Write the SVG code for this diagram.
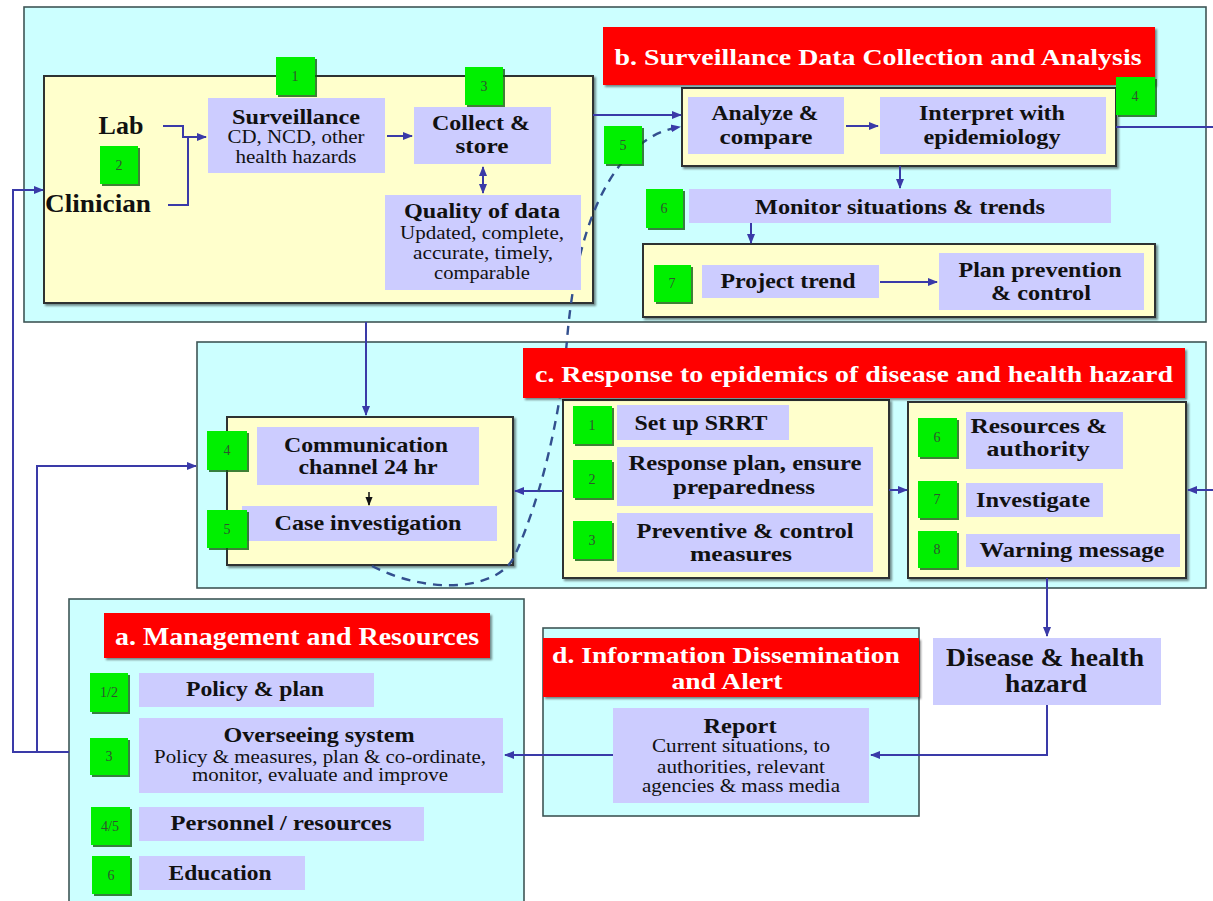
<svg xmlns="http://www.w3.org/2000/svg" width="1213" height="901" viewBox="0 0 1213 901">
  <style>
    .panel { fill: #CCFFFF; stroke: #3f5656; stroke-width: 1.6; }
    .inner { fill: #FFFFCC; stroke: #2e3333; stroke-width: 2; }
    .item { fill: #CCCCFF; }
    .badge { fill: #00F000; }
    .title { fill: #FF0000; }
    text { font-family: "Liberation Serif", Tinos, "Times New Roman", Times, "Nimbus Roman", serif; }
    .num { font-size: 14px; fill: #2f552f; text-anchor: middle; }
    .t { font-weight: bold; fill: #111; text-anchor: middle; }
    .d { fill: #111; text-anchor: middle; }
    .w { font-weight: bold; fill: #FFFFFF; text-anchor: middle; }
    .link { fill: none; stroke: #3a3aa8; stroke-width: 2; }
    .dash { fill: none; stroke: #33508f; stroke-width: 2.4; stroke-dasharray: 9 7; }
  </style>
  <defs>
    <marker id="ah" viewBox="0 0 10 10" refX="9" refY="5" markerWidth="10" markerHeight="10" markerUnits="userSpaceOnUse" orient="auto-start-reverse">
      <path d="M0,1 L10,5 L0,9 z" fill="#3a3aa8"/>
    </marker>
    <marker id="ahk" viewBox="0 0 10 10" refX="9" refY="5" markerWidth="9" markerHeight="9" markerUnits="userSpaceOnUse" orient="auto">
      <path d="M0,1 L10,5 L0,9 z" fill="#111"/>
    </marker>
    <filter id="sh" x="-10%" y="-10%" width="130%" height="140%">
      <feDropShadow dx="2" dy="2" stdDeviation="0.8" flood-color="#000" flood-opacity="0.45"/>
    </filter>
    <filter id="shg" x="-10%" y="-10%" width="130%" height="130%">
      <feDropShadow dx="2" dy="2" stdDeviation="0.6" flood-color="#106010" flood-opacity="0.8"/>
    </filter>
  </defs>

  <!-- section panels -->
  <g id="panel-b"><rect class="panel" x="24" y="7" width="1182" height="315"/></g>
  <g id="panel-c"><rect class="panel" x="197" y="342" width="1009" height="246"/></g>
  <g id="panel-a"><rect class="panel" x="69" y="599" width="455" height="310"/></g>
  <g id="panel-d"><rect class="panel" x="543" y="628" width="376" height="188"/></g>

  <!-- grouping boxes -->
  <g id="group-sources"><rect class="inner" x="44" y="76" width="549" height="227" filter="url(#sh)"/></g>
  <g id="group-analysis"><rect class="inner" x="682" y="88" width="434" height="78" filter="url(#sh)"/></g>
  <g id="group-projection"><rect class="inner" x="643" y="244" width="512" height="73" filter="url(#sh)"/></g>
  <g id="group-field"><rect class="inner" x="227" y="417" width="286" height="148" filter="url(#sh)"/></g>
  <g id="group-setup"><rect class="inner" x="563" y="400" width="326" height="178" filter="url(#sh)"/></g>
  <g id="group-action"><rect class="inner" x="908" y="402" width="278" height="176" filter="url(#sh)"/></g>

  <!-- connectors -->
  <g id="connectors">
    <path class="link" d="M163,126 H183 V137 H206" marker-end="url(#ah)"/>
    <path class="link" d="M168,205 H188 V137"/>
    <path class="link" d="M387,136 H412" marker-end="url(#ah)"/>
    <path class="link" d="M483,167 V193" marker-start="url(#ah)" marker-end="url(#ah)"/>
    <path class="link" d="M593,115 H681" marker-end="url(#ah)"/>
    <path class="link" d="M846,126 H878" marker-end="url(#ah)"/>
    <path class="link" d="M900,166 V188" marker-end="url(#ah)"/>
    <path class="link" d="M751,223 V243" marker-end="url(#ah)"/>
    <path class="link" d="M880,282 H937" marker-end="url(#ah)"/>
    <path class="link" d="M1116,127 H1213"/>
    <path class="link" d="M366,322 V415" marker-end="url(#ah)"/>
    <path class="link" d="M563,491 H515" marker-end="url(#ah)"/>
    <path class="link" d="M889,490 H907" marker-end="url(#ah)"/>
    <path class="link" d="M1213,490 H1188" marker-end="url(#ah)"/>
    <path class="link" d="M1047,578 V636" marker-end="url(#ah)"/>
    <path class="link" d="M1047,705 V755 H871" marker-end="url(#ah)"/>
    <path class="link" d="M613,755 H505" marker-end="url(#ah)"/>
    <path class="link" d="M69,752 H13 V190 H43" marker-end="url(#ah)"/>
    <path class="link" d="M37,752 V466 H196" marker-end="url(#ah)"/>
    <path fill="none" stroke="#111" stroke-width="1.5" d="M369,492 V505" marker-end="url(#ahk)"/>
    <path class="dash" d="M372,566 C430,596 500,590 515,555 C540,500 560,420 567,340 C572,280 585,210 620,165 C640,140 660,130 680,127" marker-end="url(#ah)"/>
  </g>

  <!-- b. surveillance data collection and analysis -->
  <g id="title-b">
    <rect class="title" x="603" y="27" width="552" height="58" filter="url(#sh)"/>
    <text class="w" x="878" y="65" font-size="24" textLength="527" lengthAdjust="spacingAndGlyphs">b. Surveillance Data Collection and Analysis</text>
  </g>
  <g id="lab"><text class="t" x="121" y="134" font-size="26">Lab</text></g>
  <g id="clinician"><text class="t" x="98" y="212" font-size="26" textLength="106" lengthAdjust="spacingAndGlyphs">Clinician</text></g>
  <g id="surveillance">
    <rect class="item" x="208" y="98" width="177" height="75"/>
    <text class="t" x="296" y="124" font-size="20" textLength="128" lengthAdjust="spacingAndGlyphs">Surveillance</text>
    <text class="d" x="296" y="143" font-size="19" textLength="137" lengthAdjust="spacingAndGlyphs">CD, NCD, other</text>
    <text class="d" x="296" y="163" font-size="19" textLength="121" lengthAdjust="spacingAndGlyphs">health hazards</text>
  </g>
  <g id="collect">
    <rect class="item" x="414" y="107" width="137" height="57"/>
    <text class="t" x="481" y="130" font-size="21" textLength="98" lengthAdjust="spacingAndGlyphs">Collect &amp;</text>
    <text class="t" x="482" y="153" font-size="21" textLength="53" lengthAdjust="spacingAndGlyphs">store</text>
  </g>
  <g id="quality">
    <rect class="item" x="385" y="195" width="196" height="95"/>
    <text class="t" x="482" y="218" font-size="20" textLength="156" lengthAdjust="spacingAndGlyphs">Quality of data</text>
    <text class="d" x="482" y="239" font-size="18" textLength="164" lengthAdjust="spacingAndGlyphs">Updated, complete,</text>
    <text class="d" x="483" y="259" font-size="18" textLength="140" lengthAdjust="spacingAndGlyphs">accurate, timely,</text>
    <text class="d" x="482" y="279" font-size="18" textLength="96" lengthAdjust="spacingAndGlyphs">comparable</text>
  </g>
  <g id="analyze">
    <rect class="item" x="688" y="97" width="156" height="57"/>
    <text class="t" x="765" y="120" font-size="21" textLength="107" lengthAdjust="spacingAndGlyphs">Analyze &amp;</text>
    <text class="t" x="766" y="144" font-size="21" textLength="93" lengthAdjust="spacingAndGlyphs">compare</text>
  </g>
  <g id="interpret">
    <rect class="item" x="880" y="97" width="226" height="57"/>
    <text class="t" x="992" y="120" font-size="21" textLength="146" lengthAdjust="spacingAndGlyphs">Interpret with</text>
    <text class="t" x="992" y="144" font-size="21" textLength="137" lengthAdjust="spacingAndGlyphs">epidemiology</text>
  </g>
  <g id="monitor">
    <rect class="item" x="689" y="189" width="422" height="34"/>
    <text class="t" x="900" y="214" font-size="22" textLength="290" lengthAdjust="spacingAndGlyphs">Monitor situations &amp; trends</text>
  </g>
  <g id="project">
    <rect class="item" x="702" y="265" width="177" height="33"/>
    <text class="t" x="788" y="288" font-size="21" textLength="135" lengthAdjust="spacingAndGlyphs">Project trend</text>
  </g>
  <g id="plan">
    <rect class="item" x="939" y="253" width="205" height="57"/>
    <text class="t" x="1040" y="277" font-size="21" textLength="163" lengthAdjust="spacingAndGlyphs">Plan prevention</text>
    <text class="t" x="1041" y="300" font-size="21" textLength="100" lengthAdjust="spacingAndGlyphs">&amp; control</text>
  </g>

  <!-- c. response to epidemics -->
  <g id="title-c">
    <rect class="title" x="523" y="348" width="662" height="50" filter="url(#sh)"/>
    <text class="w" x="854" y="382" font-size="24" textLength="638" lengthAdjust="spacingAndGlyphs">c. Response to epidemics of disease and health hazard</text>
  </g>
  <g id="communication">
    <rect class="item" x="257" y="427" width="222" height="58"/>
    <text class="t" x="366" y="452" font-size="21" textLength="164" lengthAdjust="spacingAndGlyphs">Communication</text>
    <text class="t" x="368" y="474" font-size="21" textLength="139" lengthAdjust="spacingAndGlyphs">channel 24 hr</text>
  </g>
  <g id="case">
    <rect class="item" x="242" y="506" width="255" height="35"/>
    <text class="t" x="368" y="530" font-size="21" textLength="187" lengthAdjust="spacingAndGlyphs">Case investigation</text>
  </g>
  <g id="srrt">
    <rect class="item" x="617" y="405" width="172" height="35"/>
    <text class="t" x="701" y="430" font-size="21" textLength="133" lengthAdjust="spacingAndGlyphs">Set up SRRT</text>
  </g>
  <g id="response-plan">
    <rect class="item" x="617" y="447" width="256" height="59"/>
    <text class="t" x="745" y="470" font-size="21" textLength="233" lengthAdjust="spacingAndGlyphs">Response plan, ensure</text>
    <text class="t" x="744" y="494" font-size="21" textLength="142" lengthAdjust="spacingAndGlyphs">preparedness</text>
  </g>
  <g id="preventive">
    <rect class="item" x="617" y="513" width="256" height="59"/>
    <text class="t" x="745" y="538" font-size="20" textLength="217" lengthAdjust="spacingAndGlyphs">Preventive &amp; control</text>
    <text class="t" x="741" y="561" font-size="20" textLength="102" lengthAdjust="spacingAndGlyphs">measures</text>
  </g>
  <g id="resources">
    <rect class="item" x="966" y="412" width="157" height="57"/>
    <text class="t" x="1039" y="433" font-size="20" textLength="137" lengthAdjust="spacingAndGlyphs">Resources &amp;</text>
    <text class="t" x="1038" y="456" font-size="20" textLength="103" lengthAdjust="spacingAndGlyphs">authority</text>
  </g>
  <g id="investigate">
    <rect class="item" x="966" y="483" width="137" height="34"/>
    <text class="t" x="1033" y="507" font-size="21" textLength="114" lengthAdjust="spacingAndGlyphs">Investigate</text>
  </g>
  <g id="warning">
    <rect class="item" x="966" y="534" width="214" height="33"/>
    <text class="t" x="1072" y="557" font-size="21" textLength="185" lengthAdjust="spacingAndGlyphs">Warning message</text>
  </g>

  <!-- hazard source -->
  <g id="hazard">
    <rect class="item" x="933" y="638" width="228" height="67"/>
    <text class="t" x="1045" y="666" font-size="25" textLength="198" lengthAdjust="spacingAndGlyphs">Disease &amp; health</text>
    <text class="t" x="1046" y="692" font-size="25" textLength="82" lengthAdjust="spacingAndGlyphs">hazard</text>
  </g>

  <!-- d. information dissemination -->
  <g id="title-d">
    <rect class="title" x="543" y="638" width="376" height="59" filter="url(#sh)"/>
    <text class="w" x="726" y="663" font-size="24" textLength="348" lengthAdjust="spacingAndGlyphs">d. Information Dissemination</text>
    <text class="w" x="727" y="689" font-size="24" textLength="111" lengthAdjust="spacingAndGlyphs">and Alert</text>
  </g>
  <g id="report">
    <rect class="item" x="613" y="708" width="256" height="95"/>
    <text class="t" x="740" y="733" font-size="20" textLength="73" lengthAdjust="spacingAndGlyphs">Report</text>
    <text class="d" x="741" y="752" font-size="18" textLength="178" lengthAdjust="spacingAndGlyphs">Current situations, to</text>
    <text class="d" x="741" y="773" font-size="18" textLength="168" lengthAdjust="spacingAndGlyphs">authorities, relevant</text>
    <text class="d" x="741" y="792" font-size="18" textLength="198" lengthAdjust="spacingAndGlyphs">agencies &amp; mass media</text>
  </g>

  <!-- a. management and resources -->
  <g id="title-a">
    <rect class="title" x="104" y="613" width="386" height="45" filter="url(#sh)"/>
    <text class="w" x="297" y="645" font-size="25" textLength="364" lengthAdjust="spacingAndGlyphs">a. Management and Resources</text>
  </g>
  <g id="policy">
    <rect class="item" x="139" y="673" width="235" height="34"/>
    <text class="t" x="255" y="696" font-size="21" textLength="138" lengthAdjust="spacingAndGlyphs">Policy &amp; plan</text>
  </g>
  <g id="overseeing">
    <rect class="item" x="139" y="718" width="364" height="75"/>
    <text class="t" x="319" y="742" font-size="21" textLength="191" lengthAdjust="spacingAndGlyphs">Overseeing system</text>
    <text class="d" x="320" y="763" font-size="18" textLength="332" lengthAdjust="spacingAndGlyphs">Policy &amp; measures, plan &amp; co-ordinate,</text>
    <text class="d" x="320" y="781" font-size="18" textLength="256" lengthAdjust="spacingAndGlyphs">monitor, evaluate and improve</text>
  </g>
  <g id="personnel">
    <rect class="item" x="139" y="807" width="285" height="34"/>
    <text class="t" x="281" y="830" font-size="21" textLength="221" lengthAdjust="spacingAndGlyphs">Personnel / resources</text>
  </g>
  <g id="education">
    <rect class="item" x="139" y="856" width="166" height="34"/>
    <text class="t" x="220" y="880" font-size="21" textLength="103" lengthAdjust="spacingAndGlyphs">Education</text>
  </g>

  <!-- step badges -->
  <g id="badge-b1"><rect class="badge" x="276" y="57" width="39" height="38" filter="url(#shg)"/><text class="num" x="295" y="81">1</text></g>
  <g id="badge-b2"><rect class="badge" x="100" y="146" width="38" height="38" filter="url(#shg)"/><text class="num" x="119" y="170">2</text></g>
  <g id="badge-b3"><rect class="badge" x="465" y="67" width="38" height="38" filter="url(#shg)"/><text class="num" x="484" y="91">3</text></g>
  <g id="badge-b4"><rect class="badge" x="1116" y="77" width="39" height="38" filter="url(#shg)"/><text class="num" x="1135" y="101">4</text></g>
  <g id="badge-b5"><rect class="badge" x="604" y="126" width="38" height="38" filter="url(#shg)"/><text class="num" x="623" y="150">5</text></g>
  <g id="badge-b6"><rect class="badge" x="646" y="189" width="37" height="39" filter="url(#shg)"/><text class="num" x="664" y="213">6</text></g>
  <g id="badge-b7"><rect class="badge" x="654" y="265" width="37" height="37" filter="url(#shg)"/><text class="num" x="672" y="288">7</text></g>
  <g id="badge-c4"><rect class="badge" x="207" y="431" width="40" height="39" filter="url(#shg)"/><text class="num" x="227" y="455">4</text></g>
  <g id="badge-c5"><rect class="badge" x="207" y="510" width="40" height="38" filter="url(#shg)"/><text class="num" x="227" y="534">5</text></g>
  <g id="badge-c1"><rect class="badge" x="573" y="406" width="39" height="38" filter="url(#shg)"/><text class="num" x="592" y="430">1</text></g>
  <g id="badge-c2"><rect class="badge" x="573" y="460" width="39" height="38" filter="url(#shg)"/><text class="num" x="592" y="484">2</text></g>
  <g id="badge-c3"><rect class="badge" x="573" y="521" width="39" height="38" filter="url(#shg)"/><text class="num" x="592" y="545">3</text></g>
  <g id="badge-c6"><rect class="badge" x="918" y="418" width="39" height="39" filter="url(#shg)"/><text class="num" x="937" y="442">6</text></g>
  <g id="badge-c7"><rect class="badge" x="918" y="481" width="39" height="37" filter="url(#shg)"/><text class="num" x="937" y="504">7</text></g>
  <g id="badge-c8"><rect class="badge" x="918" y="531" width="39" height="37" filter="url(#shg)"/><text class="num" x="937" y="554">8</text></g>
  <g id="badge-a12"><rect class="badge" x="90" y="673" width="38" height="39" filter="url(#shg)"/><text class="num" x="109" y="697">1/2</text></g>
  <g id="badge-a3"><rect class="badge" x="90" y="738" width="38" height="37" filter="url(#shg)"/><text class="num" x="109" y="761">3</text></g>
  <g id="badge-a45"><rect class="badge" x="91" y="807" width="39" height="38" filter="url(#shg)"/><text class="num" x="110" y="831">4/5</text></g>
  <g id="badge-a6"><rect class="badge" x="92" y="856" width="38" height="38" filter="url(#shg)"/><text class="num" x="111" y="880">6</text></g>
</svg>
